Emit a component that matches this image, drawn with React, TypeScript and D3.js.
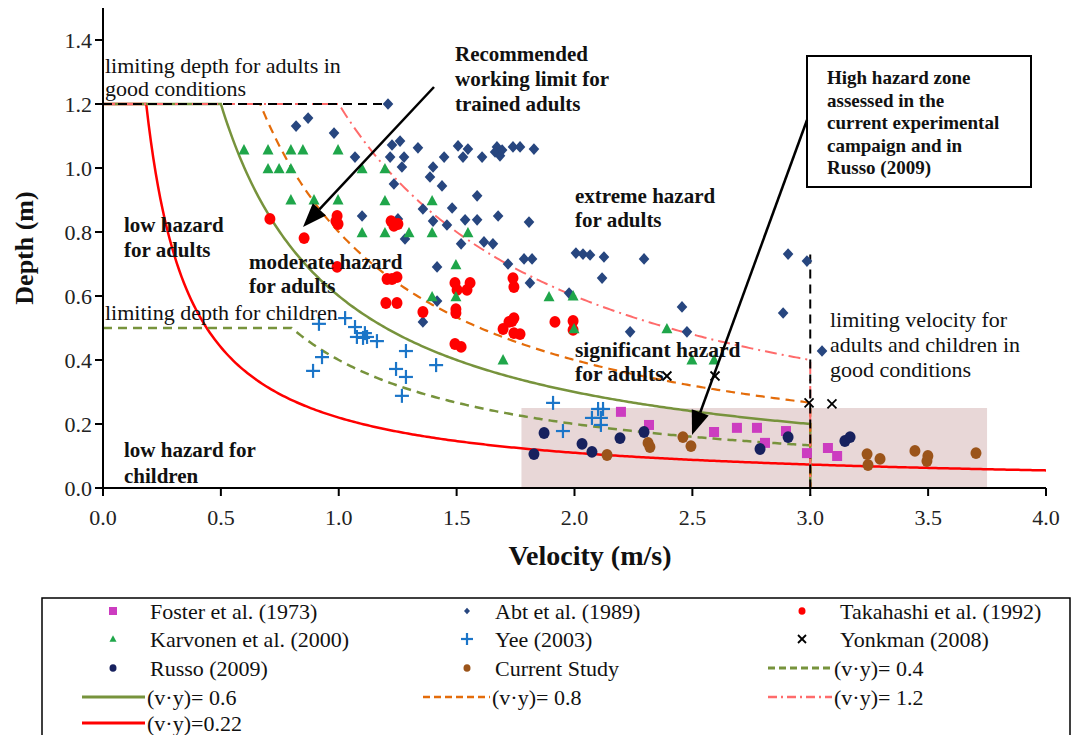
import React from 'react';
import * as d3 from 'd3';

// Observed flow conditions, [velocity (m/s), depth (m)]
const FOSTER_1973: [number, number][] = [
  [2.197, 0.238], [2.316, 0.197], [2.592, 0.175], [2.689, 0.188], [2.774, 0.188],
  [2.897, 0.178], [2.808, 0.141], [2.986, 0.109], [3.075, 0.125], [3.114, 0.1],
];

const ABT_1989: [number, number][] = [
  [0.819, 1.131], [0.87, 1.156], [0.98, 1.109], [1.209, 1.2], [1.069, 1.034],
  [1.226, 1.072], [1.26, 1.084], [1.336, 1.063], [1.218, 1.034], [1.277, 1.034],
  [1.268, 1.003], [1.234, 0.95], [1.099, 0.85], [1.251, 0.841], [1.357, 0.872],
  [1.281, 0.778], [1.506, 1.069], [1.548, 1.059], [1.447, 1.034], [1.527, 1.034],
  [1.608, 1.034], [1.671, 1.066], [1.663, 1.05], [1.684, 1.038], [1.693, 1.056],
  [1.739, 1.066], [1.769, 1.066], [1.828, 1.059], [1.4, 1.003], [1.387, 0.972],
  [1.438, 0.944], [1.587, 0.913], [1.481, 0.875], [1.4, 0.834], [1.459, 0.822],
  [1.536, 0.838], [1.587, 0.838], [1.676, 0.85], [1.807, 0.831], [1.519, 0.763],
  [1.616, 0.769], [1.654, 0.763], [1.417, 0.691], [1.718, 0.7], [1.786, 0.716],
  [1.82, 0.716], [2.006, 0.734], [2.036, 0.731], [2.066, 0.728], [2.125, 0.722],
  [2.295, 0.716], [2.117, 0.656], [2.906, 0.731], [2.986, 0.709], [1.417, 0.584],
  [1.357, 0.519], [1.811, 0.641], [1.977, 0.609], [2.456, 0.566], [2.885, 0.547],
  [2.236, 0.488], [2.477, 0.488], [3.05, 0.428],
];

const TAKAHASHI_1992: [number, number][] = [
  [0.708, 0.841], [0.853, 0.781], [0.993, 0.85], [0.988, 0.834], [0.997, 0.825],
  [0.993, 0.691], [1.222, 0.834], [1.234, 0.819], [1.251, 0.825], [1.205, 0.653],
  [1.247, 0.659], [1.226, 0.653], [1.2, 0.578], [1.247, 0.578], [1.357, 0.55],
  [1.493, 0.641], [1.502, 0.619], [1.557, 0.641], [1.544, 0.619], [1.497, 0.559],
  [1.497, 0.547], [1.493, 0.45], [1.519, 0.441], [1.739, 0.656], [1.743, 0.628],
  [1.697, 0.497], [1.735, 0.522], [1.743, 0.531], [1.722, 0.519], [1.743, 0.484],
  [1.769, 0.481], [1.917, 0.519], [1.994, 0.522], [1.994, 0.494],
];

const KARVONEN_2000: [number, number][] = [
  [0.598, 1.056], [0.7, 1.056], [0.797, 1.056], [0.848, 1.056], [0.997, 1.056],
  [0.7, 0.997], [0.747, 0.997], [0.797, 0.997], [1.099, 0.997], [1.196, 0.997],
  [0.797, 0.9], [0.895, 0.9], [0.997, 0.9], [1.196, 0.897], [1.396, 0.897],
  [1.099, 0.797], [1.196, 0.797], [1.298, 0.797], [1.396, 0.797], [1.548, 0.797],
  [1.497, 0.697], [1.396, 0.597], [1.497, 0.597], [1.697, 0.4], [1.892, 0.597],
  [1.994, 0.6], [1.998, 0.497], [2.392, 0.497], [2.498, 0.4], [2.592, 0.4],
];

const YEE_2003: [number, number][] = [
  [0.916, 0.513], [1.027, 0.531], [0.929, 0.409], [0.891, 0.366], [1.069, 0.503],
  [1.077, 0.472], [1.111, 0.484], [1.12, 0.472], [1.103, 0.469], [1.162, 0.459],
  [1.285, 0.428], [1.413, 0.384], [1.243, 0.372], [1.285, 0.347], [1.268, 0.288],
  [1.909, 0.266], [1.951, 0.178], [2.074, 0.219], [2.1, 0.247], [2.121, 0.247],
  [2.112, 0.219], [2.112, 0.197],
];

const YONKMAN_2008: [number, number][] = [
  [2.392, 0.35], [2.596, 0.35], [2.995, 0.266], [3.092, 0.263],
];

const RUSSO_2009: [number, number][] = [
  [1.828, 0.106], [1.871, 0.172], [2.032, 0.138], [2.074, 0.113], [2.193, 0.156],
  [2.295, 0.175], [2.787, 0.122], [2.906, 0.159], [3.147, 0.147], [3.169, 0.159],
];

const CURRENT_STUDY: [number, number][] = [
  [2.138, 0.103], [2.312, 0.141], [2.32, 0.128], [2.46, 0.159], [2.494, 0.131],
  [3.241, 0.106], [3.245, 0.072], [3.296, 0.091], [3.444, 0.116], [3.499, 0.1],
  [3.495, 0.084], [3.703, 0.109],
];

// Hazard thresholds v·y = const
const HAZARD_PRODUCTS = [0.22, 0.4, 0.6, 0.8, 1.2];
const LIMIT_DEPTH_ADULTS = 1.2;
const LIMIT_DEPTH_CHILDREN = 0.5;
const LIMIT_VELOCITY = 3.0;
const ZONE_V = [1.775, 3.75];
const ZONE_D = 0.25;

const X_TICKS = [0, 0.5, 1, 1.5, 2, 2.5, 3, 3.5, 4];
const Y_TICKS = [0, 0.2, 0.4, 0.6, 0.8, 1.0, 1.2, 1.4];

const SERIF = '"Liberation Serif", "Times New Roman", serif';

const x = d3.scaleLinear().domain([0, 4]).range([103, 1046]);
const y = d3.scaleLinear().domain([0, 1.4]).range([488, 40]);

type Kind = 'square' | 'diamond' | 'circle' | 'triangle' | 'plus' | 'cross';

const SERIES: { name: string; data: [number, number][]; kind: Kind; color: string }[] = [
  { name: 'Foster et al. (1973)', data: FOSTER_1973, kind: 'square', color: '#cc3cc0' },
  { name: 'Abt et al. (1989)', data: ABT_1989, kind: 'diamond', color: '#27467f' },
  { name: 'Takahashi et al. (1992)', data: TAKAHASHI_1992, kind: 'circle', color: '#ff0000' },
  { name: 'Karvonen et al. (2000)', data: KARVONEN_2000, kind: 'triangle', color: '#1fa64a' },
  { name: 'Yee (2003)', data: YEE_2003, kind: 'plus', color: '#1b75c8' },
  { name: 'Yonkman (2008)', data: YONKMAN_2008, kind: 'cross', color: '#000000' },
  { name: 'Russo (2009)', data: RUSSO_2009, kind: 'circle', color: '#17215e' },
  { name: 'Current Study', data: CURRENT_STUDY, kind: 'circle', color: '#9b541a' },
];

const LINE_STYLES: Record<string, { color: string; dash: string; width: number; cap: number; end: number; drop: boolean }> = {
  '0.22': { color: '#ff0000', dash: '', width: 2.5, cap: LIMIT_DEPTH_ADULTS, end: 4, drop: false },
  '0.4': { color: '#77933c', dash: '9 6', width: 2.5, cap: LIMIT_DEPTH_CHILDREN, end: LIMIT_VELOCITY, drop: true },
  '0.6': { color: '#77933c', dash: '', width: 2.5, cap: LIMIT_DEPTH_ADULTS, end: LIMIT_VELOCITY, drop: true },
  '0.8': { color: '#e46c0a', dash: '9 6', width: 2.2, cap: LIMIT_DEPTH_ADULTS, end: LIMIT_VELOCITY, drop: true },
  '1.2': { color: '#ff6b6b', dash: '12 5 2 5', width: 2, cap: LIMIT_DEPTH_ADULTS, end: LIMIT_VELOCITY, drop: true },
};

function hazardPath(c: number) {
  const s = LINE_STYLES[String(c)];
  const vCap = c / s.cap;
  const pts: [number, number][] = [[0, s.cap], [vCap, s.cap]];
  d3.range(vCap, s.end, 0.01).forEach((v) => pts.push([v, c / v]));
  pts.push([s.end, c / s.end]);
  if (s.drop) pts.push([s.end, 0]);
  return d3.line<[number, number]>().x((d) => x(d[0])).y((d) => y(d[1]))(pts) || '';
}

function Marker({ kind, cx, cy, s, color }: { kind: Kind; cx: number; cy: number; s: number; color: string }) {
  switch (kind) {
    case 'square':
      return <rect x={cx - s} y={cy - s} width={2 * s} height={2 * s} fill={color} />;
    case 'diamond':
      return <path d={`M${cx},${cy - s * 1.1}L${cx + s},${cy}L${cx},${cy + s * 1.1}L${cx - s},${cy}Z`} fill={color} />;
    case 'circle':
      return <ellipse cx={cx} cy={cy} rx={s} ry={s * 1.08} fill={color} />;
    case 'triangle':
      return <path d={`M${cx},${cy - s * 1.1}L${cx + s},${cy + s * 0.8}L${cx - s},${cy + s * 0.8}Z`} fill={color} />;
    case 'plus':
      return (
        <g stroke={color} strokeWidth={2.2}>
          <line x1={cx - s} x2={cx + s} y1={cy} y2={cy} />
          <line x1={cx} x2={cx} y1={cy - s} y2={cy + s} />
        </g>
      );
    case 'cross':
      return (
        <g stroke={color} strokeWidth={1.8}>
          <line x1={cx - s} x2={cx + s} y1={cy - s} y2={cy + s} />
          <line x1={cx - s} x2={cx + s} y1={cy + s} y2={cy - s} />
        </g>
      );
  }
}

const PLOT_SIZE: Record<Kind, number> = { square: 5, diamond: 5.3, circle: 5.5, triangle: 5.5, plus: 7, cross: 4.5 };
const LEGEND_SIZE: Record<Kind, number> = { square: 4, diamond: 3, circle: 3.5, triangle: 3.5, plus: 6, cross: 4 };

function Arrow({ x1, y1, x2, y2 }: { x1: number; y1: number; x2: number; y2: number }) {
  const a = Math.atan2(y2 - y1, x2 - x1);
  const len = 24, half = 9;
  const bx = x2 - len * Math.cos(a), by = y2 - len * Math.sin(a);
  const px = -Math.sin(a) * half, py = Math.cos(a) * half;
  return (
    <g>
      <line x1={x1} y1={y1} x2={bx} y2={by} stroke="#000" strokeWidth={2.5} />
      <path d={`M${x2},${y2}L${bx + px},${by + py}L${bx - px},${by - py}Z`} fill="#000" />
    </g>
  );
}

function Label({ lines, x0, y0, dy, bold, size }: { lines: string[]; x0: number; y0: number; dy: number; bold?: boolean; size: number }) {
  return (
    <text x={x0} y={y0} fontFamily={SERIF} fontSize={size} fontWeight={bold ? 'bold' : 'normal'} fill="#111">
      {lines.map((l, i) => (
        <tspan key={i} x={x0} dy={i === 0 ? 0 : dy}>{l}</tspan>
      ))}
    </text>
  );
}

const LEGEND_ITEMS: ({ type: 'marker'; idx: number } | { type: 'line'; c: number })[] = [
  { type: 'marker', idx: 0 }, { type: 'marker', idx: 1 }, { type: 'marker', idx: 2 },
  { type: 'marker', idx: 3 }, { type: 'marker', idx: 4 }, { type: 'marker', idx: 5 },
  { type: 'marker', idx: 6 }, { type: 'marker', idx: 7 }, { type: 'line', c: 0.4 },
  { type: 'line', c: 0.6 }, { type: 'line', c: 0.8 }, { type: 'line', c: 1.2 },
  { type: 'line', c: 0.22 },
];

export default function App() {
  const colX = [113, 467, 802];
  const textX = [150, 495, 840];
  const lineX = [[82, 145], [423, 490], [768, 832]];
  const rowY = [611, 639, 668, 697, 723];

  return (
    <svg width={1075} height={735} style={{ position: 'absolute', left: 0, top: 0, background: '#fff' }}>
      {/* high hazard zone */}
      <rect x={x(ZONE_V[0])} y={y(ZONE_D)} width={x(ZONE_V[1]) - x(ZONE_V[0])} height={y(0) - y(ZONE_D)} fill="#e8d7d7" />

      {/* hazard threshold curves */}
      {HAZARD_PRODUCTS.map((c) => {
        const s = LINE_STYLES[String(c)];
        return <path key={c} d={hazardPath(c)} fill="none" stroke={s.color} strokeWidth={s.width} strokeDasharray={s.dash || undefined} />;
      })}

      {/* limiting depth / velocity */}
      <line x1={x(0)} x2={x(1.22)} y1={y(LIMIT_DEPTH_ADULTS)} y2={y(LIMIT_DEPTH_ADULTS)} stroke="#000" strokeWidth={2} strokeDasharray="9 6" />
      <line x1={x(LIMIT_VELOCITY)} x2={x(LIMIT_VELOCITY)} y1={y(0.73)} y2={y(-0.025)} stroke="#000" strokeWidth={2} strokeDasharray="9 6" />

      {/* observations */}
      {SERIES.map((s) => (
        <g key={s.name}>
          {s.data.map((d, i) => (
            <Marker key={i} kind={s.kind} cx={x(d[0])} cy={y(d[1])} s={PLOT_SIZE[s.kind]} color={s.color} />
          ))}
        </g>
      ))}

      {/* axes */}
      <line x1={103} x2={103} y1={y(1.5)} y2={y(0)} stroke="#000" strokeWidth={2} />
      <line x1={103} x2={x(4)} y1={y(0)} y2={y(0)} stroke="#000" strokeWidth={2} />
      {Y_TICKS.map((t) => (
        <g key={t}>
          <line x1={95} x2={103} y1={y(t)} y2={y(t)} stroke="#000" strokeWidth={2} />
          <text x={92} y={y(t)} dy="0.35em" textAnchor="end" fontFamily={SERIF} fontSize={22} fill="#222">{t.toFixed(1)}</text>
        </g>
      ))}
      {X_TICKS.map((t) => (
        <g key={t}>
          <line x1={x(t)} x2={x(t)} y1={y(0)} y2={y(0) + 8} stroke="#000" strokeWidth={2} />
          <text x={x(t)} y={517} dy="0.35em" textAnchor="middle" fontFamily={SERIF} fontSize={22} fill="#222">{t.toFixed(1)}</text>
        </g>
      ))}
      <text x={590} y={555} dy="0.35em" textAnchor="middle" fontFamily={SERIF} fontSize={28} fontWeight="bold" fill="#111">Velocity (m/s)</text>
      <text transform="translate(24,248) rotate(-90)" dy="0.35em" textAnchor="middle" fontFamily={SERIF} fontSize={26} fontWeight="bold" fill="#111">Depth (m)</text>

      {/* zone labels */}
      <Label lines={['limiting depth for adults in', 'good conditions']} x0={105} y0={73} dy={23} size={22} />
      <Label lines={['Recommended', 'working limit for', 'trained adults']} x0={455} y0={61} dy={25} size={21} bold />
      <Label lines={['low hazard', 'for adults']} x0={124} y0={232} dy={25} size={21} bold />
      <Label lines={['moderate hazard', 'for adults']} x0={249} y0={269} dy={24} size={21} bold />
      <Label lines={['extreme hazard', 'for adults']} x0={575} y0={203} dy={24} size={21} bold />
      <Label lines={['limiting depth for children']} x0={105} y0={320} dy={24} size={22} />
      <Label lines={['significant hazard', 'for adults']} x0={575} y0={357} dy={24} size={21.5} bold />
      <Label lines={['limiting velocity for', 'adults and children in', 'good conditions']} x0={830} y0={327} dy={25} size={22} />
      <Label lines={['low hazard for', 'children']} x0={124} y0={457} dy={26} size={21} bold />

      {/* annotation box */}
      <rect x={807} y={56} width={224} height={131} fill="#fff" stroke="#000" strokeWidth={2} />
      <Label lines={['High hazard  zone', 'assessed in the', 'current experimental', 'campaign and in', 'Russo  (2009)']} x0={827} y0={84} dy={22.5} size={19} bold />

      <Arrow x1={434} y1={87} x2={303} y2={227} />
      <Arrow x1={807} y1={120} x2={692} y2={435} />

      {/* legend */}
      <rect x={42} y={598} width={1028} height={150} fill="#fff" stroke="#000" strokeWidth={1.5} />
      {LEGEND_ITEMS.map((it, i) => {
        const col = i % 3, row = Math.floor(i / 3);
        const cy = rowY[row];
        if (it.type === 'marker') {
          const s = SERIES[it.idx];
          return (
            <g key={i}>
              <Marker kind={s.kind} cx={colX[col]} cy={cy} s={LEGEND_SIZE[s.kind]} color={s.color} />
              <text x={textX[col]} y={cy} dy="0.35em" fontFamily={SERIF} fontSize={22} fill="#111">{s.name}</text>
            </g>
          );
        }
        const st = LINE_STYLES[String(it.c)];
        return (
          <g key={i}>
            <line x1={lineX[col][0]} x2={lineX[col][1]} y1={cy} y2={cy} stroke={st.color} strokeWidth={st.width + 0.5} strokeDasharray={st.dash ? (it.c === 1.2 ? '9 4 2 4' : '7 4') : undefined} />
            <text x={lineX[col][1] + 2} y={cy} dy="0.35em" fontFamily={SERIF} fontSize={22} fill="#111">{`(v·y)=${it.c === 0.22 ? '' : ' '}${it.c}`}</text>
          </g>
        );
      })}
    </svg>
  );
}
